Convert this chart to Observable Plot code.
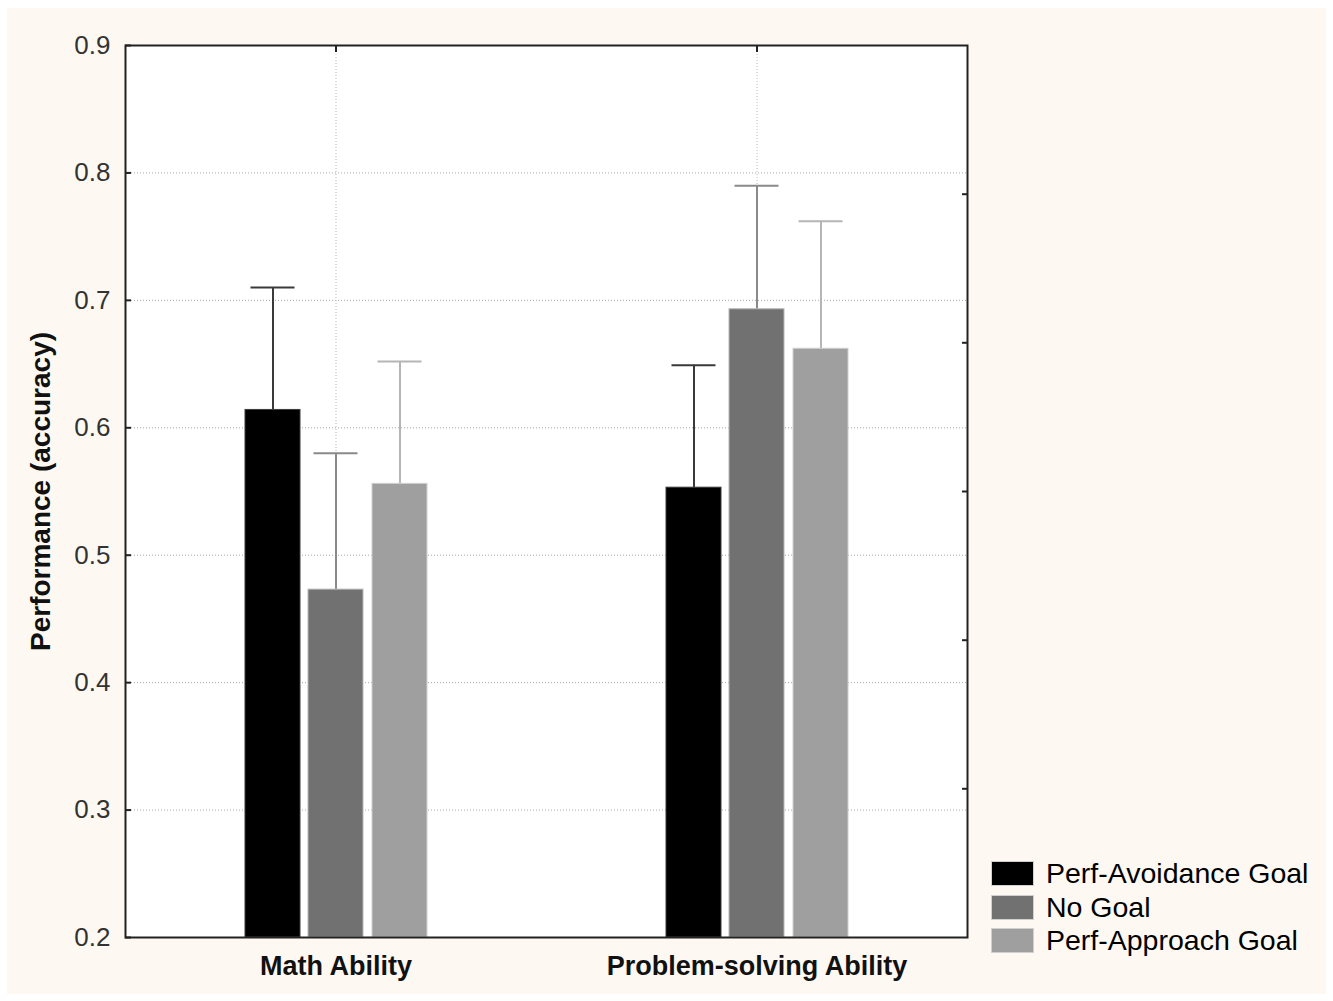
<!DOCTYPE html>
<html>
<head>
<meta charset="utf-8">
<script src="https://cdn.jsdelivr.net/npm/d3@7"></script>
<script src="https://cdn.jsdelivr.net/npm/@observablehq/plot@0.6"></script>
<style>
  html, body { margin: 0; padding: 0; background: #ffffff; }
  #page { position: absolute; left: 0; top: 0; width: 1333px; height: 1001px; overflow: hidden; }
  #bg { position: absolute; left: 7px; top: 8px; right: 7px; bottom: 7px; background: #fdf9f2; }
  #chart { position: absolute; left: 0; top: 0; }
  #legend { position: absolute; left: 991px; top: 857px; font-family: "Liberation Sans", Arial, sans-serif; font-size: 28.5px; color: #000; }
  .row { display: flex; align-items: center; height: 33.5px; }
  .sw { width: 43px; height: 25px; margin-right: 12px; box-sizing: border-box; border: 1px solid #d0d0d0; }
</style>
</head>
<body>
<div id="page">
  <div id="bg"></div>
  <div id="chart"></div>
  <div id="legend"></div>
</div>
<script>
// ---- data ----
const categories = ["Math Ability", "Problem-solving Ability"];
const series = ["Perf-Avoidance Goal", "No Goal", "Perf-Approach Goal"];
const meanMath = [0.614, 0.473, 0.556];
const meanProblem = [0.553, 0.693, 0.662];
const upperMath = [0.710, 0.580, 0.652];
const upperProblem = [0.649, 0.790, 0.762];
const yTicks = [0.2, 0.3, 0.4, 0.5, 0.6, 0.7, 0.8, 0.9];
const rightTicks = [0.3167, 0.4333, 0.55, 0.6667, 0.7833];
const yLabel = "Performance (accuracy)";

// ---- styles ----
const barColors = ["#000000", "#717171", "#9f9f9f"];
const barStrokes = ["#3a3a3a", "#b8b8b8", "#cfcfcf"];
const errColors = ["#3a3a3a", "#8a8a8a", "#b5b5b5"];
const offsets = [-63, 0, 64];

const rows = [];
series.forEach((s, j) => {
  rows.push({category: categories[0], series: s, mean: meanMath[j], upper: upperMath[j], j});
  rows.push({category: categories[1], series: s, mean: meanProblem[j], upper: upperProblem[j], j});
});

const W = 1333, H = 1001;
const mL = 125, mT = 45, mR = 366, mB = 64;
const bandW = (W - mL - mR) / categories.length;
const barW = 55, capW = 44;

const marks = [
  Plot.frame({fill: "white", stroke: null}),
  Plot.gridY(yTicks.slice(1, -1), {stroke: "#a8a8a8", strokeOpacity: 1, strokeDasharray: "1,2"}),
  Plot.gridX(categories, {stroke: "#b8b8b8", strokeOpacity: 1, strokeDasharray: "1,2"})
];
series.forEach((s, j) => {
  const d = rows.filter(r => r.j === j);
  marks.push(
    Plot.ruleX(d, {x: "category", y1: "mean", y2: "upper", dx: offsets[j], stroke: errColors[j], strokeWidth: 2}),
    Plot.tickY(d, {x: "category", y: "upper", dx: offsets[j], stroke: errColors[j], strokeWidth: 2,
      insetLeft: (bandW - capW) / 2, insetRight: (bandW - capW) / 2}),
    Plot.barY(d, {x: "category", y1: 0.2, y2: "mean", dx: offsets[j], fill: barColors[j],
      stroke: barStrokes[j], strokeWidth: 1,
      insetLeft: (bandW - barW) / 2, insetRight: (bandW - barW) / 2})
  );
});
marks.push(
  Plot.axisY({ticks: yTicks, tickSize: 0, tickPadding: 15, tickFormat: d3.format(".1f"),
    fontSize: 26, fill: "#333", label: null}),
  Plot.axisY({ticks: yTicks, tickSize: 6, dx: 6, tickFormat: () => "", label: null, stroke: "#222", strokeWidth: 2}),
  Plot.axisY({anchor: "right", ticks: rightTicks, tickSize: 6, dx: -6, tickFormat: () => "", label: null, stroke: "#222", strokeWidth: 2}),
  Plot.axisX({anchor: "top", tickSize: 6, dy: 6, tickFormat: () => "", label: null, stroke: "#222", strokeWidth: 2}),
  Plot.axisX({anchor: "bottom", tickSize: 0, tickPadding: 18, fontSize: 27, fontWeight: "bold", fill: "#111", label: null}),
  Plot.text([yLabel], {frameAnchor: "left", textAnchor: "middle", rotate: -90, dx: -84, fontSize: 28, fontWeight: "bold", fill: "#111"}),
  Plot.frame({stroke: "#222", strokeWidth: 2})
);

const chart = Plot.plot({
  width: W, height: H,
  marginLeft: mL, marginTop: mT, marginRight: mR, marginBottom: mB,
  style: {fontFamily: "'Liberation Sans', Arial, sans-serif", background: "transparent", overflow: "visible"},
  x: {type: "band", domain: categories, padding: 0, round: false},
  y: {domain: [0.2, 0.9]},
  marks
});
document.getElementById("chart").appendChild(chart);

const lg = document.getElementById("legend");
series.forEach((s, j) => {
  const r = document.createElement("div");
  r.className = "row";
  const sw = document.createElement("div");
  sw.className = "sw";
  sw.style.background = barColors[j];
  const t = document.createElement("span");
  t.textContent = s;
  r.appendChild(sw); r.appendChild(t);
  lg.appendChild(r);
});
</script>
</body>
</html>
